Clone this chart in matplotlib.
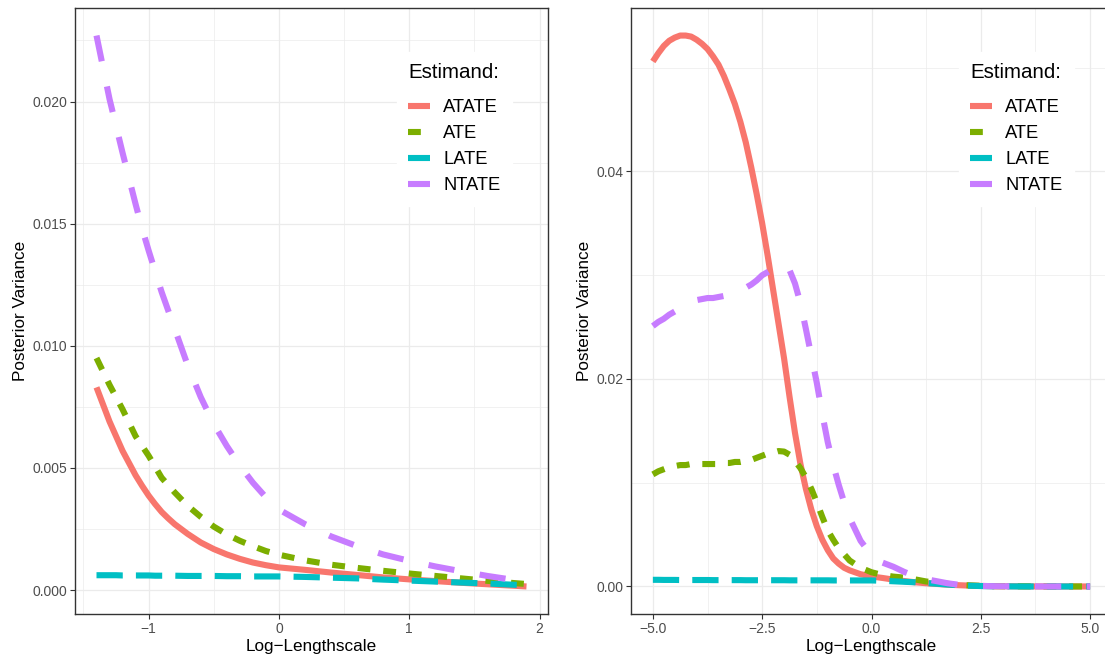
import matplotlib
matplotlib.use("Agg")
import matplotlib.pyplot as plt
from matplotlib.ticker import FixedLocator, FixedFormatter

plt.rcParams['font.family'] = ['Liberation Sans', 'DejaVu Sans']
plt.rcParams['axes.unicode_minus'] = True

# ---------------- data ----------------
estimands = ["ATATE", "ATE", "LATE", "NTATE"]

x_left = [-1.4, -1.35, -1.3, -1.25, -1.2, -1.15, -1.1, -1.05, -1.0, -0.95, -0.9, -0.85,
          -0.8, -0.7, -0.6, -0.5, -0.4, -0.3, -0.2, -0.1, 0.0, 0.2, 0.4, 0.6, 0.8,
          1.0, 1.2, 1.4, 1.6, 1.8, 1.9]
left_atate = [0.0083, 0.0076, 0.0069, 0.0063, 0.0057, 0.0052, 0.0047, 0.00427, 0.00387,
              0.00352, 0.0032, 0.00294, 0.0027, 0.0023, 0.00195, 0.00168, 0.00146,
              0.00128, 0.00113, 0.00102, 0.00093, 0.00083, 0.00072, 0.00062, 0.00052,
              0.00044, 0.00037, 0.0003, 0.00024, 0.00018, 0.00015]
left_ate = [0.0095, 0.00895, 0.0084, 0.0079, 0.0074, 0.00685, 0.0063, 0.0059, 0.0055,
            0.00505, 0.0046, 0.0043, 0.0040, 0.00345, 0.0030, 0.0026, 0.00228, 0.00202,
            0.0018, 0.0016, 0.00145, 0.00122, 0.00104, 0.00091, 0.00079, 0.00068,
            0.00058, 0.00048, 0.00038, 0.00029, 0.00025]
left_late = [0.00061, 0.00061, 0.00061, 0.00061, 0.0006, 0.0006, 0.0006, 0.0006, 0.0006,
             0.00059, 0.00059, 0.00059, 0.00059, 0.00058, 0.00058, 0.00058, 0.00057,
             0.00057, 0.00056, 0.00056, 0.00056, 0.00054, 0.00051, 0.00048, 0.00043,
             0.00039, 0.00035, 0.00031, 0.00027, 0.00022, 0.0002]
left_ntate = [0.0227, 0.0214, 0.0201, 0.0190, 0.0179, 0.01685, 0.0158, 0.0148, 0.0139,
              0.01305, 0.0122, 0.01145, 0.0107, 0.0092, 0.0079, 0.0068, 0.0059, 0.0051,
              0.0044, 0.0038, 0.0033, 0.0027, 0.0022, 0.0018, 0.00146, 0.0012, 0.00097,
              0.00077, 0.00058, 0.00042, 0.00035]

x_right = [-5.0, -4.875, -4.75, -4.625, -4.5, -4.375, -4.25, -4.125, -4.0, -3.875, -3.75,
           -3.625, -3.5, -3.375, -3.25, -3.125, -3.0, -2.875, -2.75, -2.625, -2.5,
           -2.375, -2.25, -2.125, -2.0, -1.875, -1.75, -1.625, -1.5, -1.375, -1.25,
           -1.125, -1.0, -0.875, -0.75, -0.625, -0.5, -0.25, 0.0, 0.25, 0.5, 0.75,
           1.0, 1.25, 1.5, 1.75, 2.0, 2.25, 2.5, 2.75, 3.0, 3.5, 4.0, 4.5, 5.0]
right_atate = [0.0506, 0.0514, 0.0521, 0.0526, 0.0529, 0.0531, 0.0531, 0.0530, 0.0527,
               0.0523, 0.0518, 0.0511, 0.0503, 0.0492, 0.0479, 0.0465, 0.0448, 0.0428,
               0.0404, 0.0378, 0.0350, 0.0319, 0.0286, 0.0253, 0.0220, 0.0183, 0.0148,
               0.0118, 0.0094, 0.0074, 0.0058, 0.0045, 0.0035, 0.0027, 0.0022, 0.0018,
               0.00155, 0.00118, 0.00096, 0.00082, 0.00066, 0.00052, 0.0004, 0.00031,
               0.00024, 0.00017, 0.00012, 0.00008, 0.00005, 0.00003, 0.00002, 0.00001,
               0.0, 0.0, 0.0]
right_ate = [0.0108, 0.0111, 0.0113, 0.0115, 0.0116, 0.0117, 0.0117, 0.0118, 0.0118,
             0.0118, 0.0118, 0.0118, 0.0118, 0.0119, 0.0119, 0.0120, 0.0120, 0.0121,
             0.0122, 0.0124, 0.0126, 0.0128, 0.0129, 0.01305, 0.0130, 0.0127, 0.0121,
             0.0114, 0.0105, 0.0094, 0.0081, 0.0067, 0.0054, 0.0045, 0.0037, 0.0031,
             0.0025, 0.0018, 0.00137, 0.0011, 0.00095, 0.00085, 0.00068, 0.00048,
             0.00036, 0.00025, 0.00016, 0.0001, 0.00006, 0.00003, 0.00002, 0.00001,
             0.0, 0.0, 0.0]
right_late = [0.00064, 0.00064, 0.00063, 0.00063, 0.00063, 0.00062, 0.00062, 0.00062,
              0.00062, 0.00062, 0.00062, 0.00061, 0.00061, 0.00061, 0.00061, 0.00061,
              0.00061, 0.0006, 0.0006, 0.0006, 0.0006, 0.0006, 0.0006, 0.0006, 0.0006,
              0.00059, 0.00059, 0.00059, 0.00059, 0.00059, 0.00059, 0.00059, 0.00059,
              0.00058, 0.00058, 0.00058, 0.00058, 0.00058, 0.00058, 0.00055, 0.0005,
              0.00045, 0.0004, 0.00033, 0.00026, 0.00018, 0.00012, 0.00007, 0.00004,
              0.00002, 0.00001, 0.0, 0.0, 0.0, 0.0]
right_ntate = [0.0251, 0.0255, 0.0258, 0.0262, 0.0265, 0.0268, 0.0271, 0.0274, 0.0276,
               0.0277, 0.0278, 0.0278, 0.0279, 0.0280, 0.0281, 0.0283, 0.0285, 0.0288,
               0.0291, 0.0295, 0.0300, 0.0303, 0.0306, 0.0309, 0.0310, 0.0305, 0.0292,
               0.0273, 0.0248, 0.0222, 0.0196, 0.0166, 0.0139, 0.0117, 0.0098, 0.0081,
               0.0066, 0.0044, 0.0030, 0.0023, 0.0019, 0.0014, 0.0010, 0.0007, 0.0005,
               0.0003, 0.00016, 0.0001, 0.00005, 0.00003, 0.00002, 0.00001, 0.0, 0.0, 0.0]

left_xticks = [-1, 0, 1, 2]
left_xlabels = ["\u22121", "0", "1", "2"]
left_yticks = [0.0, 0.005, 0.010, 0.015, 0.020]
left_ylabels = ["0.000", "0.005", "0.010", "0.015", "0.020"]
right_xticks = [-5.0, -2.5, 0.0, 2.5, 5.0]
right_xlabels = ["\u22125.0", "\u22122.5", "0.0", "2.5", "5.0"]
right_yticks = [0.0, 0.02, 0.04]
right_ylabels = ["0.00", "0.02", "0.04"]

# ---------------- style ----------------
colors = ["#F8766D", "#7CAE00", "#00BFC4", "#C77CFF"]
LW = 4.4
styles = ["-", (0, (2.1, 2.1)), (0, (4.3, 2.15)), (0, (4.3, 4.2))]

W, H = 1105, 658
fig = plt.figure(figsize=(W / 100, H / 100), dpi=100)
fig.patch.set_facecolor("white")

ax1 = fig.add_axes([75 / W, 44 / H, 473 / W, 606 / H])
ax2 = fig.add_axes([631 / W, 44 / H, 481 / W, 606 / H])


def expand(vals):
    lo, hi = min(vals), max(vals)
    d = (hi - lo) * 0.05
    return lo - d, hi + d


def style_axes(ax, xt, xl, yt, yl, xminor, yminor):
    ax.set_facecolor("white")
    for s in ax.spines.values():
        s.set_color("#333333")
        s.set_linewidth(1.0)
        s.set_zorder(5)
    ax.xaxis.set_major_locator(FixedLocator(xt))
    ax.xaxis.set_major_formatter(FixedFormatter(xl))
    ax.yaxis.set_major_locator(FixedLocator(yt))
    ax.yaxis.set_major_formatter(FixedFormatter(yl))
    ax.xaxis.set_minor_locator(FixedLocator(xminor))
    ax.yaxis.set_minor_locator(FixedLocator(yminor))
    ax.grid(True, which="major", color="#EBEBEB", linewidth=0.9)
    ax.grid(True, which="minor", color="#EBEBEB", linewidth=0.5)
    ax.set_axisbelow(True)
    ax.tick_params(which="major", length=3.4, width=0.8, color="#333333",
                   labelsize=10, labelcolor="#4D4D4D", pad=2.2)
    ax.tick_params(which="minor", length=0)
    ax.set_xlabel("Log\u2212Lengthscale", fontsize=12.3, color="black", labelpad=2)
    ax.set_ylabel("Posterior Variance", fontsize=12.3, color="black", labelpad=3)


def draw(ax, x, series):
    handles = []
    for name, y, c, ls in zip(estimands, series, colors, styles):
        h, = ax.plot(x, y, color=c, lw=LW, linestyle=ls, label=name,
                     solid_capstyle="butt", dash_capstyle="butt",
                     solid_joinstyle="round")
        handles.append(h)
    return handles


h1 = draw(ax1, x_left, [left_atate, left_ate, left_late, left_ntate])
h2 = draw(ax2, x_right, [right_atate, right_ate, right_late, right_ntate])

ax1.set_xlim(*expand(x_left))
ax1.set_ylim(*expand(left_atate + left_ate + left_late + left_ntate))
ax2.set_xlim(*expand(x_right))
ax2.set_ylim(*expand(right_atate + right_ate + right_late + right_ntate))

style_axes(ax1, left_xticks, left_xlabels, left_yticks, left_ylabels,
           [-1.5, -0.5, 0.5, 1.5], [0.0025, 0.0075, 0.0125, 0.0175, 0.0225])
style_axes(ax2, right_xticks, right_xlabels, right_yticks, right_ylabels,
           [-3.75, -1.25, 1.25, 3.75], [0.01, 0.03, 0.05])


def add_legend(ax, handles, x0_px, y0_px):
    fs = 13.2
    leg = ax.legend(handles=handles, labels=estimands, title="Estimand:",
                    loc="upper left",
                    bbox_to_anchor=(x0_px / W, 1 - y0_px / H),
                    bbox_transform=fig.transFigure,
                    frameon=True, fancybox=False, framealpha=1.0,
                    edgecolor="white", facecolor="white",
                    fontsize=fs, title_fontsize=14.8,
                    handlelength=1.2, handletextpad=0.7,
                    labelspacing=0.49, borderpad=0.62, borderaxespad=0,
                    alignment="left")
    # larger gap between title and the entries
    leg._legend_box.sep = 17 * 72 / 100
    leg.set_zorder(10)
    return leg


add_legend(ax1, h1, 397, 52)
add_legend(ax2, h2, 959, 52)

fig.savefig("out.png", dpi=100)
